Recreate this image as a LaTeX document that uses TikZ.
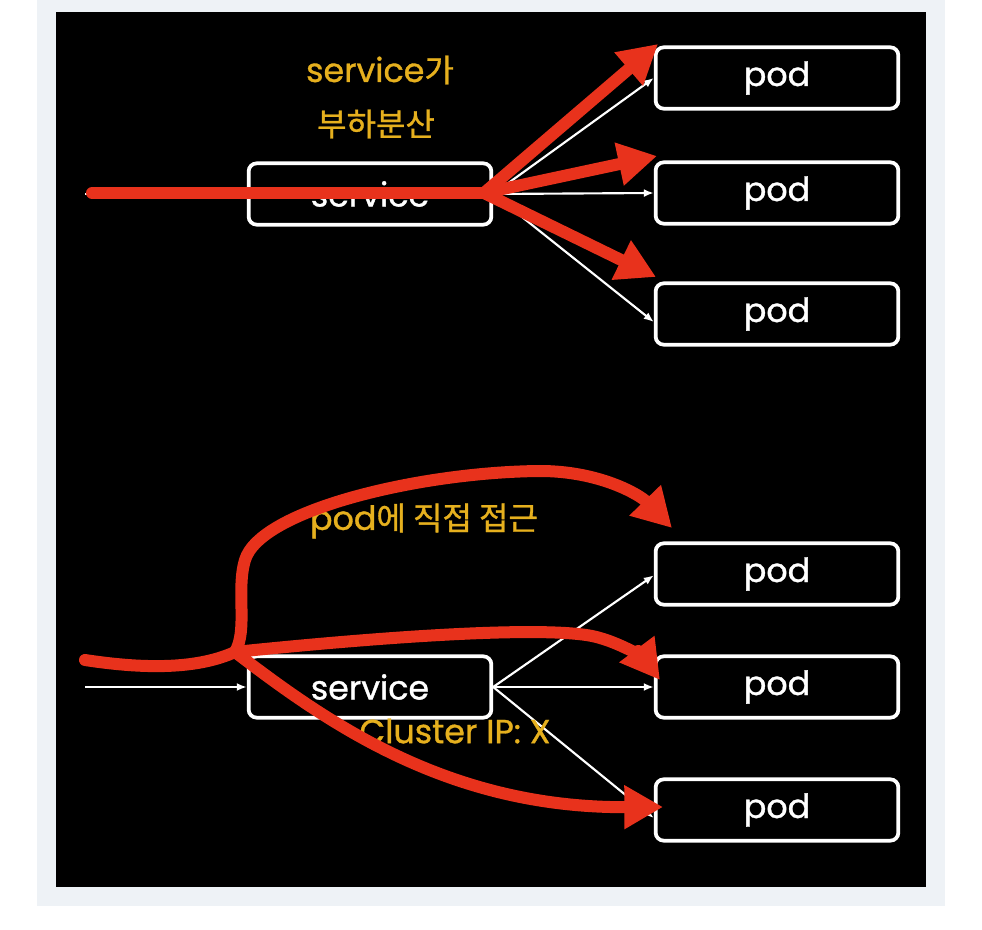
\documentclass[tikz,border=0pt]{standalone}
\usepackage{fontspec}
\setmainfont{Poppins}[FakeBold=1]
\newfontfamily\latinfont{Poppins}[FakeBold=1]
\newfontfamily\krfont{Noto Sans CJK KR}[FakeBold=1]
\usetikzlibrary{arrows.meta}
\definecolor{panelgray}{HTML}{EEF2F6}
\definecolor{hlred}{HTML}{E8321C}
\definecolor{labelyellow}{HTML}{E6B01E}

\begin{document}
\begin{tikzpicture}[x=0.75pt, y=-0.75pt, % 1 unit = 1 px of the slide
  box/.style={draw=white, line width=2.8pt, rounded corners=6pt, minimum width=182pt, minimum height=46pt, text=white, font=\fontsize{25}{30}\selectfont},
  flow/.style={draw=white, line width=1.6pt, -{Latex[length=7.5pt,width=6pt]}},
  note/.style={text=labelyellow, font=\latinfont\fontsize{25}{30}\selectfont},
  krnote/.style={text=labelyellow, font=\krfont\fontsize{24}{28}\selectfont},
  redpath/.style={draw=hlred, line width=9pt, line cap=round},
  redtip/.style={-{Triangle[length=29pt,width=31pt]}}]

\fill[white] (0,0) rectangle (982,930);
\fill[panelgray] (37,0) rectangle (945,906);
\fill[black] (56,12) rectangle (926,887);

% upper half: service spreads the load
\node[box] (svcA) at (370,194) {service};
\node[box] (podA1) at (777,78) {pod};
\node[box] (podA2) at (777,193) {pod};
\node[box] (podA3) at (777,314) {pod};
\coordinate (inA) at (85,194);
\draw[flow] (inA) -- (svcA.west);
\draw[flow] (svcA.east) -- (podA1.west);
\draw[flow] (svcA.east) -- (podA2.west);
\draw[flow] (svcA.east) -- ([yshift=-6pt]podA3.west);
\node[note] (lbA1) at (380,70) {service{\krfont\fontsize{24}{28}\selectfont 가}};
\node[krnote] (lbA2) at (376,124) {부하분산};

% lower half: pods reached directly
\node[box] (svcB) at (370,687) {service};
\node[box] (podB1) at (777,574) {pod};
\node[box] (podB2) at (777,687) {pod};
\node[box] (podB3) at (777,810) {pod};
\coordinate (inB) at (85,687);
\draw[flow] (inB) -- (svcB.west);
\draw[flow] (svcB.east) -- ([yshift=-1pt]podB1.west);
\draw[flow] (svcB.east) -- (podB2.west);
\draw[flow] (svcB.east) -- ([yshift=-6pt]podB3.west);
\node[krnote] (lbB1) at (424,521) {{\latinfont\fontsize{25}{30}\selectfont pod}에 직접 접근};
\node[note] (lbB2) at (455,731) {Cluster IP: X};

% red strokes
\coordinate (srcA) at (92,193);
\coordinate (hubA) at (484,193);
\coordinate (tipA1) at (658,44);
\coordinate (tipA2) at (657,156);
\coordinate (tipA3) at (656,277);
\draw[redpath] (srcA) -- (hubA);
\foreach \t in {tipA1,tipA2,tipA3}
  \draw[redpath, redtip] (hubA) -- (\t);

\coordinate (srcB) at (85,660);
\coordinate (hubB) at (235,652);
\coordinate (tipB1) at (672,528);
\coordinate (tipB2) at (660,680);
\coordinate (tipB3) at (663,807);
\draw[redpath] (srcB) .. controls (150,670) and (200,668) .. (hubB);
\draw[redpath, redtip] (hubB) .. controls (248,630) and (236,590) .. (245,560)
  .. controls (260,510) and (420,472) .. (540,471)
  .. controls (600,471) and (640,495) .. (tipB1);
\draw[redpath, redtip] (hubB) .. controls (400,635) and (560,625) .. (600,638)
  .. controls (625,645) and (645,660) .. (tipB2);
\draw[redpath, redtip] (hubB) .. controls (330,725) and (450,808) .. (tipB3);

\end{tikzpicture}
\end{document}
